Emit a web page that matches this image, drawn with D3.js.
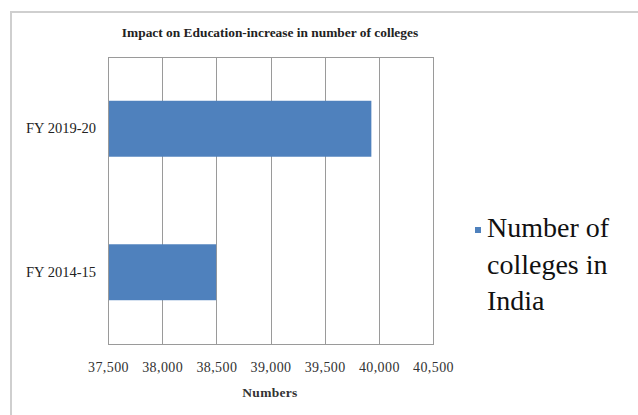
<!DOCTYPE html>
<html>
<head>
<meta charset="utf-8">
<script src="https://cdn.jsdelivr.net/npm/d3@7"></script>
<style>
  html, body { margin: 0; padding: 0; background: #fff; }
  svg { display: block; }
</style>
</head>
<body>
<svg id="chart" width="638" height="415"></svg>
<script>
// Horizontal bar chart: number of colleges in India by fiscal year
const categories = ["FY 2019-20", "FY 2014-15"];
const colleges = [39931, 38498];
const tickValues = [37500, 38000, 38500, 39000, 39500, 40000, 40500];
const seriesName = "Number of colleges in India";
const legendLines = ["Number of", "colleges in", "India"];

const svg = d3.select("#chart");
const W = 638, H = 415;
const plot = { left: 108, right: 433, top: 57, bottom: 344 };
const barColor = "#4f81bd";
const serif = '"Liberation Serif", "Times New Roman", serif';

// Outer chart-area frame (top and left edges visible)
svg.append("line").attr("x1", 10).attr("x2", W).attr("y1", 12).attr("y2", 12)
  .attr("stroke", "#cfcfcf").attr("stroke-width", 2);
svg.append("line").attr("x1", 11).attr("x2", 11).attr("y1", 12).attr("y2", H)
  .attr("stroke", "#cfcfcf").attr("stroke-width", 2);

const x = d3.scaleLinear()
  .domain([tickValues[0], tickValues[tickValues.length - 1]])
  .range([plot.left, plot.right]);

const y = d3.scaleBand()
  .domain(categories)
  .range([plot.top, plot.bottom])
  .paddingInner(0.61)
  .paddingOuter(0.305);

// Vertical gridlines
svg.append("g")
  .selectAll("line")
  .data(tickValues)
  .join("line")
  .attr("x1", d => Math.round(x(d)) + 0.5)
  .attr("x2", d => Math.round(x(d)) + 0.5)
  .attr("y1", plot.top)
  .attr("y2", plot.bottom)
  .attr("stroke", "#9a9a9a")
  .attr("stroke-width", 1);

// Plot frame
svg.append("rect")
  .attr("x", plot.left + 0.5).attr("y", plot.top + 0.5)
  .attr("width", plot.right - plot.left).attr("height", plot.bottom - plot.top)
  .attr("fill", "none").attr("stroke", "#9a9a9a");

// Bars
svg.append("g")
  .selectAll("rect")
  .data(categories.map((c, i) => ({ c, v: colleges[i] })))
  .join("rect")
  .attr("x", x(tickValues[0]) + 1)
  .attr("y", d => y(d.c))
  .attr("width", d => x(d.v) - x(tickValues[0]) - 1)
  .attr("height", y.bandwidth())
  .attr("fill", barColor);

// X axis tick labels
const xAxis = d3.axisBottom(x)
  .tickValues(tickValues)
  .tickSize(0)
  .tickPadding(0)
  .tickFormat(d3.format(","));
const gx = svg.append("g")
  .attr("transform", `translate(0,${plot.bottom + 18})`)
  .call(xAxis);
gx.select(".domain").remove();
gx.selectAll("text")
  .style("font-family", serif)
  .style("font-size", "14px")
  .style("letter-spacing", "0.4px")
  .attr("fill", "#333");

// Y axis category labels
const yAxis = d3.axisLeft(y).tickSize(0).tickPadding(12);
const gy = svg.append("g")
  .attr("transform", `translate(${plot.left},0)`)
  .call(yAxis);
gy.select(".domain").remove();
gy.selectAll("text")
  .style("font-family", serif)
  .style("font-size", "14.5px")
  .attr("fill", "#222");

// Title
svg.append("text")
  .attr("x", 270).attr("y", 37)
  .attr("text-anchor", "middle")
  .style("font-family", serif)
  .style("font-weight", "bold")
  .style("font-size", "13.4px")
  .attr("fill", "#222")
  .text("Impact on Education-increase in number of colleges");

// Axis title
svg.append("text")
  .attr("x", 270).attr("y", 397)
  .attr("text-anchor", "middle")
  .style("font-family", serif)
  .style("font-weight", "bold")
  .style("font-size", "13.5px")
  .style("letter-spacing", "0.3px")
  .attr("fill", "#333")
  .text("Numbers");

// Legend
const legend = svg.append("g").attr("aria-label", seriesName);
legend.append("rect")
  .attr("x", 475).attr("y", 227).attr("width", 6).attr("height", 6)
  .attr("fill", barColor);
legend.append("text")
  .style("font-family", serif)
  .style("font-size", "28px")
  .attr("fill", "#111")
  .selectAll("tspan")
  .data(legendLines)
  .join("tspan")
  .attr("x", 487)
  .attr("y", (d, i) => 237 + i * 36.5)
  .text(d => d);
</script>
</body>
</html>
